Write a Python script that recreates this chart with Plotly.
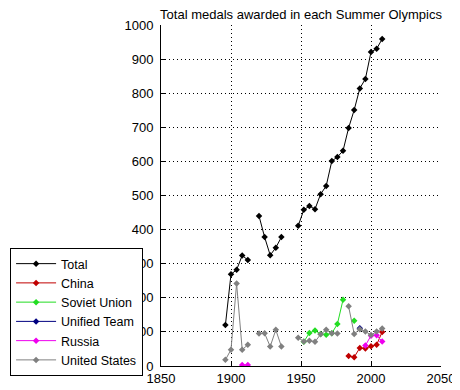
import plotly.graph_objects as go

years = [1896, 1900, 1904, 1908, 1912, 1916, 1920, 1924, 1928, 1932, 1936, 1940, 1944,
         1948, 1952, 1956, 1960, 1964, 1968, 1972, 1976, 1980, 1984, 1988, 1992, 1996,
         2000, 2004, 2008]
N = None
total = [120, 269, 282, 324, 311, N, 440, 378, 325, 347, 378, N, N,
         411, 458, 469, 460, 504, 528, 601, 613, 631, 698, 751, 814, 842, 921, 930, 959]
china = [N]*22 + [29, 26, 53, 51, 58, 62, 100]
soviet = [N]*14 + [71, 97, 104, 94, 92, 96, 123, 194, N, 133, N, N, N, N, N]
unified = [N]*24 + [111, N, N, N, N]
russia = [N, N, N, 3, 3] + [N]*20 + [60, 89, 90, 72]
usa = [18, 48, 242, 48, 62, N, 95, 96, 57, 106, 57, N, N,
       83, 72, 74, 71, 93, 106, 96, 95, N, 175, 94, 108, 101, 91, 101, 110]

x_ticks = [1850, 1900, 1950, 2000, 2050]
y_ticks = list(range(0, 1001, 100))

series = [
    ("Total", total, "#000000"),
    ("China", china, "#c00000"),
    ("Soviet Union", soviet, "#22dd22"),
    ("Unified Team", unified, "#000080"),
    ("Russia", russia, "#ee00ee"),
    ("United States", usa, "#808080"),
]

fig = go.Figure()
for name, vals, col in series:
    fig.add_trace(go.Scatter(
        x=years, y=vals, name=name, mode="lines+markers",
        line=dict(color=col, width=1),
        marker=dict(symbol="diamond", size=5, color=col),
        connectgaps=False,
    ))

font = "Liberation Sans, Arial, sans-serif"
fig.update_layout(
    width=460, height=390,
    # page body has an 8px margin; offsets compensate so plot area sits at x 161-441, y 25-366
    margin=dict(l=153, r=27, t=17, b=32, autoexpand=False),
    paper_bgcolor="white", plot_bgcolor="white",
    font=dict(family=font, size=13, color="black"),
    title=dict(text="Total medals awarded in each Summer Olympics",
               x=0.5, xref="paper", xanchor="center",
               y=1, yref="paper", yanchor="bottom", pad=dict(b=6),
               font=dict(family=font, size=13, color="black")),
    showlegend=True,
    legend=dict(x=-0.539, y=0.346, xanchor="left", yanchor="top",
                bgcolor="white", bordercolor="black", borderwidth=1,
                font=dict(family=font, size=12.5, color="black"),
                tracegroupgap=0, itemwidth=40),
    xaxis=dict(range=[1850, 2050], tickvals=x_ticks,
               showgrid=True, gridcolor="black", griddash="1px,3px", gridwidth=1,
               showline=True, linecolor="black", linewidth=1,
               ticks="inside", ticklen=4, tickcolor="black", zeroline=False),
    yaxis=dict(range=[0, 1000], tickvals=y_ticks,
               showgrid=True, gridcolor="black", griddash="1px,3px", gridwidth=1,
               showline=True, linecolor="black", linewidth=1, ticklabelstandoff=4,
               ticks="inside", ticklen=4, tickcolor="black", zeroline=False),
)

fig.write_html("out.html")
